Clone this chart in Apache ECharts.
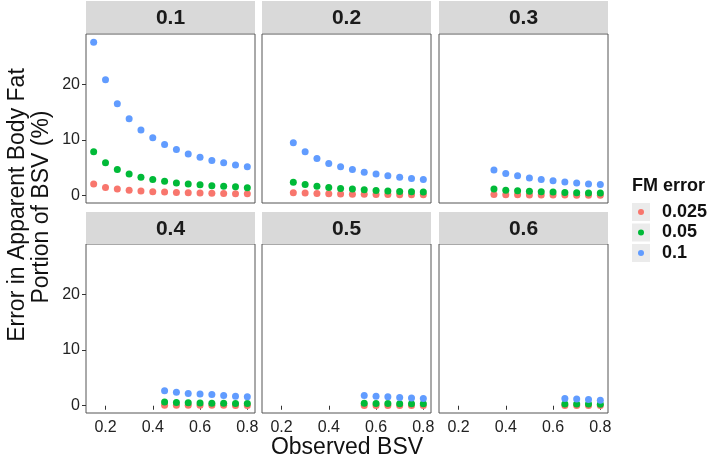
<!DOCTYPE html>
<html>
<head>
<meta charset="utf-8">
<script src="https://cdn.jsdelivr.net/npm/echarts@6/dist/echarts.min.js"></script>
<style>
  html, body { margin: 0; padding: 0; background: #fff; }
  #chart { width: 709px; height: 462px; }
</style>
</head>
<body>
<div id="chart"></div>
<script>
// facet labels (true BSV) and the observed BSV grid
const facets = ["0.1", "0.2", "0.3", "0.4", "0.5", "0.6"];
const observedBSV = [0.15, 0.2, 0.25, 0.3, 0.35, 0.4, 0.45, 0.5, 0.55, 0.6, 0.65, 0.7, 0.75, 0.8];
const fmErrors = ["0.025", "0.05", "0.1"];
const xTicks = [0.2, 0.4, 0.6, 0.8];
const yTicks = [0, 10, 20];

// error values per facet, one array per FM error level
const err025 = [
  [2.1, 1.5, 1.2, 1.0, 0.85, 0.72, 0.65, 0.58, 0.52, 0.48, 0.44, 0.41, 0.38, 0.36],
  [0.55, 0.48, 0.42, 0.37, 0.32, 0.29, 0.26, 0.24, 0.22, 0.2, 0.19, 0.18],
  [0.22, 0.19, 0.17, 0.15, 0.14, 0.13, 0.12, 0.11, 0.1, 0.1],
  [0.1, 0.09, 0.08, 0.08, 0.07, 0.07, 0.06, 0.06],
  [0.06, 0.055, 0.05, 0.05, 0.045, 0.04],
  [0.04, 0.04, 0.035, 0.035],
];
const err05 = [
  [7.9, 5.9, 4.7, 3.9, 3.3, 2.9, 2.6, 2.3, 2.1, 1.95, 1.8, 1.7, 1.6, 1.45],
  [2.4, 2.0, 1.7, 1.5, 1.3, 1.2, 1.07, 0.95, 0.85, 0.78, 0.72, 0.66],
  [1.2, 1.0, 0.9, 0.8, 0.72, 0.66, 0.6, 0.55, 0.51, 0.48],
  [0.65, 0.6, 0.55, 0.5, 0.47, 0.44, 0.42, 0.4],
  [0.45, 0.42, 0.4, 0.38, 0.36, 0.34],
  [0.33, 0.31, 0.3, 0.28],
];
const err1 = [
  [27.5, 20.8, 16.5, 13.8, 11.8, 10.4, 9.2, 8.3, 7.5, 6.9, 6.3, 5.9, 5.5, 5.2],
  [9.5, 7.9, 6.7, 5.8, 5.2, 4.7, 4.2, 3.9, 3.6, 3.3, 3.1, 2.9],
  [4.6, 4.0, 3.6, 3.2, 2.9, 2.7, 2.45, 2.3, 2.1, 2.0],
  [2.7, 2.4, 2.2, 2.1, 2.0, 1.85, 1.72, 1.6],
  [1.85, 1.7, 1.6, 1.5, 1.4, 1.3],
  [1.3, 1.2, 1.1, 1.0],
];

const colors = ["#F8766D", "#00BA38", "#619CFF"];
const font = "Liberation Sans";
const colLeft = [86, 262, 439];
const rowTop = [34, 244];
const panelW = 169, panelH = 169;
const stripTop = [1, 212], stripH = 32;

let grids = [], xAxes = [], yAxes = [], series = [], graphics = [];

facets.forEach((f, i) => {
  const col = i % 3, row = Math.floor(i / 3);
  grids.push({
    left: colLeft[col], top: rowTop[row], width: panelW, height: panelH,
    show: true, borderColor: "#555", borderWidth: 1, backgroundColor: "#fff",
  });
  xAxes.push({
    type: "value", gridIndex: i, min: 0.1175, max: 0.8325,
    axisLine: { show: false },
    splitLine: { show: false },
    axisTick: { show: row === 1, length: 4, lineStyle: { color: "#333" }, customValues: xTicks },
    axisLabel: {
      show: row === 1, customValues: xTicks, color: "#222", fontSize: 16, fontFamily: font, margin: 7,
      formatter: (v) => v.toFixed(1),
    },
  });
  yAxes.push({
    type: "value", gridIndex: i, min: -1.3, max: 29,
    axisLine: { show: false },
    splitLine: { show: false },
    axisTick: { show: col === 0, length: 4, lineStyle: { color: "#333" }, customValues: yTicks },
    axisLabel: { show: col === 0, customValues: yTicks, color: "#222", fontSize: 16, fontFamily: font, margin: 6 },
  });

  [err025, err05, err1].forEach((arr, k) => {
    const vals = arr[i];
    const xs = observedBSV.slice(observedBSV.length - vals.length);
    series.push({
      name: fmErrors[k], type: "scatter", xAxisIndex: i, yAxisIndex: i,
      symbolSize: 7, itemStyle: { color: colors[k], opacity: 1 },
      data: vals.map((v, j) => [xs[j], v]),
    });
  });

  // facet strip
  graphics.push({
    type: "rect", shape: { x: colLeft[col], y: stripTop[row], width: panelW, height: stripH },
    style: { fill: "#d9d9d9" }, silent: true,
  });
  graphics.push({
    type: "text", x: colLeft[col] + panelW / 2, y: stripTop[row] + stripH / 2 + 1,
    style: { text: f, fill: "#1a1a1a", font: "bold 21px " + font, textAlign: "center", textVerticalAlign: "middle" },
    silent: true,
  });
});

// axis titles
graphics.push({
  type: "text", x: 347, y: 448,
  style: { text: "Observed BSV", fill: "#111", font: "23px " + font, textAlign: "center", textVerticalAlign: "middle" },
});
graphics.push({
  type: "text", x: 18, y: 205, rotation: Math.PI / 2,
  style: { text: "Error in Apparent Body Fat", fill: "#111", font: "23px " + font, textAlign: "center", textVerticalAlign: "middle" },
});
graphics.push({
  type: "text", x: 42, y: 207, rotation: Math.PI / 2,
  style: { text: "Portion of BSV (%)", fill: "#111", font: "23px " + font, textAlign: "center", textVerticalAlign: "middle" },
});

// legend title and key boxes
graphics.push({
  type: "text", x: 632, y: 186,
  style: { text: "FM error", fill: "#111", font: "bold 18px " + font, textAlign: "left", textVerticalAlign: "middle" },
});
[0, 1, 2].forEach((k) => {
  graphics.push({
    type: "rect", shape: { x: 632, y: 203 + k * 20.5, width: 18, height: 18 },
    style: { fill: "#ebebeb" }, silent: true, z: -1,
  });
});

const chart = echarts.init(document.getElementById("chart"));
chart.setOption({
  animation: false,
  backgroundColor: "#fff",
  grid: grids,
  xAxis: xAxes,
  yAxis: yAxes,
  legend: {
    data: fmErrors, orient: "vertical", left: 638, top: 202, padding: 0,
    icon: "circle", itemWidth: 6, itemHeight: 6, itemGap: 0.5, selectedMode: false,
    textStyle: { fontSize: 18, fontWeight: "bold", fontFamily: font, color: "#111", lineHeight: 20, padding: [0, 0, 0, 13] },
  },
  graphic: graphics,
  series: series,
});
</script>
</body>
</html>
